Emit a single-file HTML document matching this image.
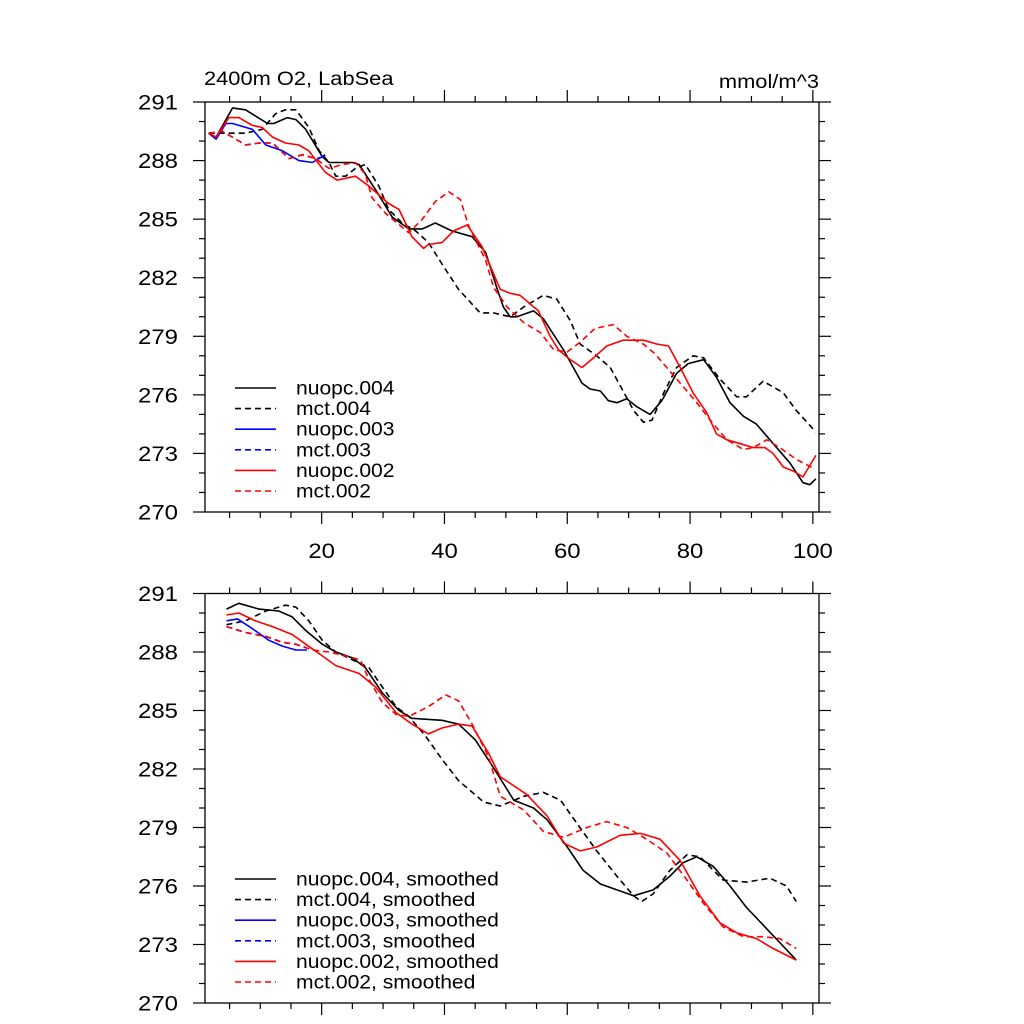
<!DOCTYPE html>
<html><head><meta charset="utf-8"><style>
html,body{margin:0;padding:0;background:#fff;}
svg{display:block;font-family:"Liberation Sans",sans-serif;}
</style></head><body>
<svg id="chart" width="1024" height="1024" viewBox="0 0 1024 1024">
<text id="ttl" x="204" y="85" font-size="19">2400m O2, LabSea</text>
<text id="unit" x="819" y="88" font-size="19" text-anchor="end">mmol/m^3</text>
</svg>
<script>
// ---- top panel data (raw) ----
const n004Years=[1.6,2.8,5.5,7.6,11.2,12.2,14.4,15.8,17.4,20.1,21.2,22.8,25,26.1,28.8,31.5,34.2,36.4,38.5,41.2,44.5,46.7,48.6,49.6,50.7,51.8,54.5,56.1,59.4,62.4,63.7,65.4,66.7,68.1,69.7,71.3,73.5,75.4,77.8,79.7,82.2,84.3,86.5,88.7,90.8,93,96.3,98.4,99.5,100.5];
const n004Values=[289.4,289.2,290.7,290.6,289.9,289.9,290.2,290.1,289.6,288.2,287.9,287.9,287.9,287.8,286.5,285.1,284.5,284.5,284.8,284.4,284.1,283.3,281.4,280.5,280.0,280.0,280.3,279.9,278.3,276.6,276.3,276.2,275.7,275.6,275.8,275.4,275.0,275.7,277.1,277.6,277.8,276.9,275.6,274.9,274.5,273.7,272.5,271.5,271.4,271.7];
const m004Years=[1.6,3.8,7.6,10.3,12.5,14.1,15.8,17.9,19.6,21.2,22.3,23.9,25.5,27.1,29.3,30.9,33.1,35.3,37.4,39.6,42.3,45.8,48,50.7,52.9,56.1,58.3,60.5,62.1,64.8,67,69.1,70.8,72.4,73.8,75.7,77.8,80.5,82.2,84.9,87.6,89.2,91.9,95.2,97.3,100.5];
const m004Values=[289.4,289.4,289.4,289.6,290.4,290.6,290.6,289.7,288.5,287.9,287.2,287.2,287.6,287.8,286.7,285.5,284.8,284.4,283.8,282.7,281.4,280.2,280.2,280.0,280.5,281.1,280.9,279.8,278.6,278.0,277.4,276.2,275.2,274.6,274.7,276.1,277.4,278.0,277.9,276.8,275.9,275.9,276.7,276.1,275.2,274.1];
const n003Years=[1.6,2.8,4.4,5.5,8.7,10.9,13.6,16.3,18.5,20.6];
const n003Values=[289.4,289.1,289.9,289.9,289.6,288.8,288.5,288.0,287.9,288.3];
const m003Years=[1.6,3.8,6,7.6,9.8,12,14.7,16.9,19,20.6];
const m003Values=[289.4,289.5,289.1,288.8,288.9,288.9,288.1,288.3,288.1,288.2];
const n002Years=[1.6,2.8,4.9,6.5,8.7,10.3,12,14.1,16.3,17.9,20.6,22.5,25.5,27.7,30.9,32.6,34.7,36.6,37.4,39.6,41.5,43.7,46.1,49.1,50.7,52.3,55.3,57.2,58.6,60.5,62.4,64.3,66.4,69.1,72.4,74.6,76.5,78.4,80.5,82.7,84.3,86,88.2,90.3,92.2,93.5,95.2,96.8,98.4,100.5];
const n002Values=[289.4,289.2,290.2,290.2,289.8,289.7,289.2,288.9,288.8,288.5,287.4,287.0,287.2,286.7,285.8,285.5,284.1,283.5,283.7,283.8,284.4,284.7,283.6,281.4,281.2,281.1,280.3,279.0,278.3,277.8,277.4,277.9,278.5,278.8,278.8,278.6,278.5,277.4,276.1,275.1,274.0,273.7,273.5,273.3,273.3,273.0,272.3,272.1,271.8,272.9];
const m002Years=[1.6,3.8,6,7.6,9.8,12,14.7,16.9,19,21.2,23.4,25.5,27.1,28.2,30.4,34.2,36.4,38.5,40.7,42.6,44,46.7,48,50.2,52.9,55.6,57.8,60,62.1,64.5,67.5,69.7,72.4,74.3,76.2,78.4,81.1,83.8,86,88.7,90.3,92.5,94.6,97.3,100.3];
const m002Values=[289.4,289.5,289.1,288.8,288.9,288.9,288.1,288.3,288.1,287.6,287.8,287.9,287.3,286.1,285.3,284.3,285.0,285.9,286.4,286.0,284.6,282.9,281.5,280.5,279.7,279.2,278.3,278.2,278.7,279.4,279.6,279.0,278.6,278.1,277.4,276.6,275.6,274.5,273.7,273.2,273.3,273.7,273.3,272.7,272.2];
// ---- bottom panel data (smoothed) ----
const sn004Years=[4.5,6.5,9.8,13,15.2,17.4,20.1,22.3,25,27.1,29.9,32.6,34.7,39.6,42.3,45,47.5,51.3,54.5,56.7,60,62.6,65.4,68.1,70.8,74,76.7,78.9,81.1,83.8,86.5,89.2,92.5,94.6,97.3];
const sn004Values=[290.2,290.5,290.2,290.1,289.8,289.1,288.4,288.0,287.7,287.2,285.9,285.0,284.6,284.5,284.3,283.5,282.3,280.4,280.0,279.4,278.0,276.8,276.1,275.8,275.5,275.8,276.5,277.2,277.5,277.0,276.0,274.9,273.8,273.1,272.2];
const sm004Years=[4.5,7.6,10.9,14.1,15.8,17.9,20.1,22.3,25,27.7,29.9,32.1,34.2,36.9,39.6,42.3,46.4,49.1,52.9,56.1,58.9,61.6,64.8,68.1,70.8,72.1,74,76.7,79.5,81.6,85.4,89.2,93,95.7,97.3];
const sm004Values=[289.4,289.6,290.1,290.4,290.3,289.6,288.6,288.0,287.6,287.2,286.2,285.2,284.7,283.7,282.5,281.4,280.3,280.1,280.6,280.8,280.4,279.2,277.8,276.5,275.5,275.2,275.6,276.8,277.6,277.5,276.3,276.2,276.4,276.0,275.2];
const sn003Years=[4.5,6.3,8.7,11.4,13.6,15.8,17.6];
const sn003Values=[289.6,289.7,289.2,288.6,288.3,288.1,288.1];
const sm003Years=[4.5,7.6,10.9,13.6,15.8,17.6];
const sm003Values=[289.3,289.0,288.8,288.5,288.4,288.2];
const sn002Years=[4.5,6.5,9.2,12,15.2,17.4,20.1,22.3,26.1,28.8,32.1,34.7,37.4,39.6,42.3,44.5,47.2,49.1,53.4,56.7,59.4,62.1,64.8,68.6,71.9,75.1,78.4,81.6,84.9,87.6,90.8,93.5,97.3];
const sn002Values=[289.9,290.0,289.6,289.3,288.9,288.4,287.8,287.3,286.9,286.2,284.9,284.3,283.8,284.1,284.3,284.2,282.8,281.6,280.7,279.6,278.2,277.8,278.0,278.6,278.7,278.4,277.3,275.5,274.1,273.6,273.3,272.8,272.2];
const sm002Years=[4.5,7.6,10.9,13.6,15.8,18.5,21.2,23.9,26.3,27.7,29.9,32.1,34.2,37.4,40.2,42.3,44.5,47.2,49.1,52.9,56.1,59.4,63.2,66.4,69.7,72.9,76.2,79.5,82.2,85.4,88.7,91.9,94.6,97.3];
const sm002Values=[289.3,289.0,288.8,288.5,288.4,288.1,288.0,287.8,287.6,286.6,285.4,284.8,284.7,285.2,285.8,285.5,284.3,282.6,280.6,279.9,278.8,278.5,279.0,279.3,279.0,278.4,277.7,276.3,275.1,273.9,273.4,273.4,273.3,272.8];
// ---- axis ticks / legend labels ----
const yTickValues=[270,273,276,279,282,285,288,291];
const xTickValues=[20,40,60,80,100];
const legendTop=["nuopc.004","mct.004","nuopc.003","mct.003","nuopc.002","mct.002"];
const legendBottom=["nuopc.004, smoothed","mct.004, smoothed","nuopc.003, smoothed","mct.003, smoothed","nuopc.002, smoothed","mct.002, smoothed"];

const NS="http://www.w3.org/2000/svg";
const svg=document.getElementById('chart');
const X0=205,X1=819,XMIN=1,XMAX=101,YMIN=270,YMAX=291;
function xs(t){return X0+(t-XMIN)/(XMAX-XMIN)*(X1-X0);}
function mk(tag,attrs,parent){const e=document.createElementNS(NS,tag);for(const k in attrs)e.setAttribute(k,attrs[k]);(parent||svg).appendChild(e);return e;}
function stretch(el,f){const w=el.getComputedTextLength();el.setAttribute('textLength',(w*f).toFixed(1));el.setAttribute('lengthAdjust','spacingAndGlyphs');}
const styles=[["#000",""],["#000","6 4"],["#0000ff",""],["#0000ff","6 4"],["#ff0000",""],["#ff0000","6 4"]];
stretch(document.getElementById('ttl'),1.15);
stretch(document.getElementById('unit'),1.15);

function panel(top,bottom,series,labels,legendY,showX,pname){
  const ys=v=>bottom-(v-YMIN)/(YMAX-YMIN)*(bottom-top);
  const g=mk('g',{});
  
  
  const fr=mk('rect',{x:X0,y:top,width:X1-X0,height:bottom-top,fill:'none',stroke:'#000','stroke-width':1.3},g);
  
  
  for(let v=YMIN;v<=YMAX;v++){
    const maj=(v-YMIN)%3===0,L=maj?12:6,y=ys(v);
    const t1=mk('line',{x1:X0-L,x2:X0,y1:y,y2:y,stroke:'#000','stroke-width':1.2},g);
    
    
    const t2=mk('line',{x1:X1,x2:X1+L,y1:y,y2:y,stroke:'#000','stroke-width':1.2},g);
    
    
  }
  yTickValues.forEach(v=>{
    const tx=mk('text',{x:178,y:ys(v)+7.5,'font-size':21,'text-anchor':'end'},g);
    tx.textContent=v;
    
    
    stretch(tx,1.14);
  });
  for(let t=5;t<=100;t+=5){
    const maj=t%20===0,L=maj?12:6,x=xs(t);
    const a=mk('line',{x1:x,x2:x,y1:bottom,y2:bottom+L,stroke:'#000','stroke-width':1.2},g);
    
    
    const b=mk('line',{x1:x,x2:x,y1:top-L,y2:top,stroke:'#000','stroke-width':1.2},g);
    
    
  }
  if(showX) xTickValues.forEach(t=>{
    const tx=mk('text',{x:xs(t),y:bottom+46,'font-size':21,'text-anchor':'middle'},g);
    tx.textContent=t;
    
    
    stretch(tx,1.14);
  });
  series.forEach((s,i)=>{
    const pts=s[0].map((t,j)=>xs(t).toFixed(1)+','+ys(s[1][j]).toFixed(1)).join(' ');
    const p=mk('polyline',{points:pts,fill:'none',stroke:styles[i][0],'stroke-width':1.6,'stroke-dasharray':styles[i][1],'stroke-linejoin':'round'},g);
    
    
  });
  labels.forEach((lab,i)=>{
    const y=legendY+i*20.6;
    const l=mk('line',{x1:235,x2:276,y1:y,y2:y,stroke:styles[i][0],'stroke-width':1.6,'stroke-dasharray':styles[i][1]},g);
    
    
    const tx=mk('text',{x:296,y:y+6.5,'font-size':19},g);
    tx.textContent=lab;
    
    
    stretch(tx,1.11);
  });
}
panel(102,512,[[n004Years,n004Values],[m004Years,m004Values],[n003Years,n003Values],[m003Years,m003Values],[n002Years,n002Values],[m002Years,m002Values]],legendTop,388,true,'top-panel');
panel(593.5,1003,[[sn004Years,sn004Values],[sm004Years,sm004Values],[sn003Years,sn003Values],[sm003Years,sm003Values],[sn002Years,sn002Values],[sm002Years,sm002Values]],legendBottom,879,false,'bottom-panel');
</script>
</body></html>
